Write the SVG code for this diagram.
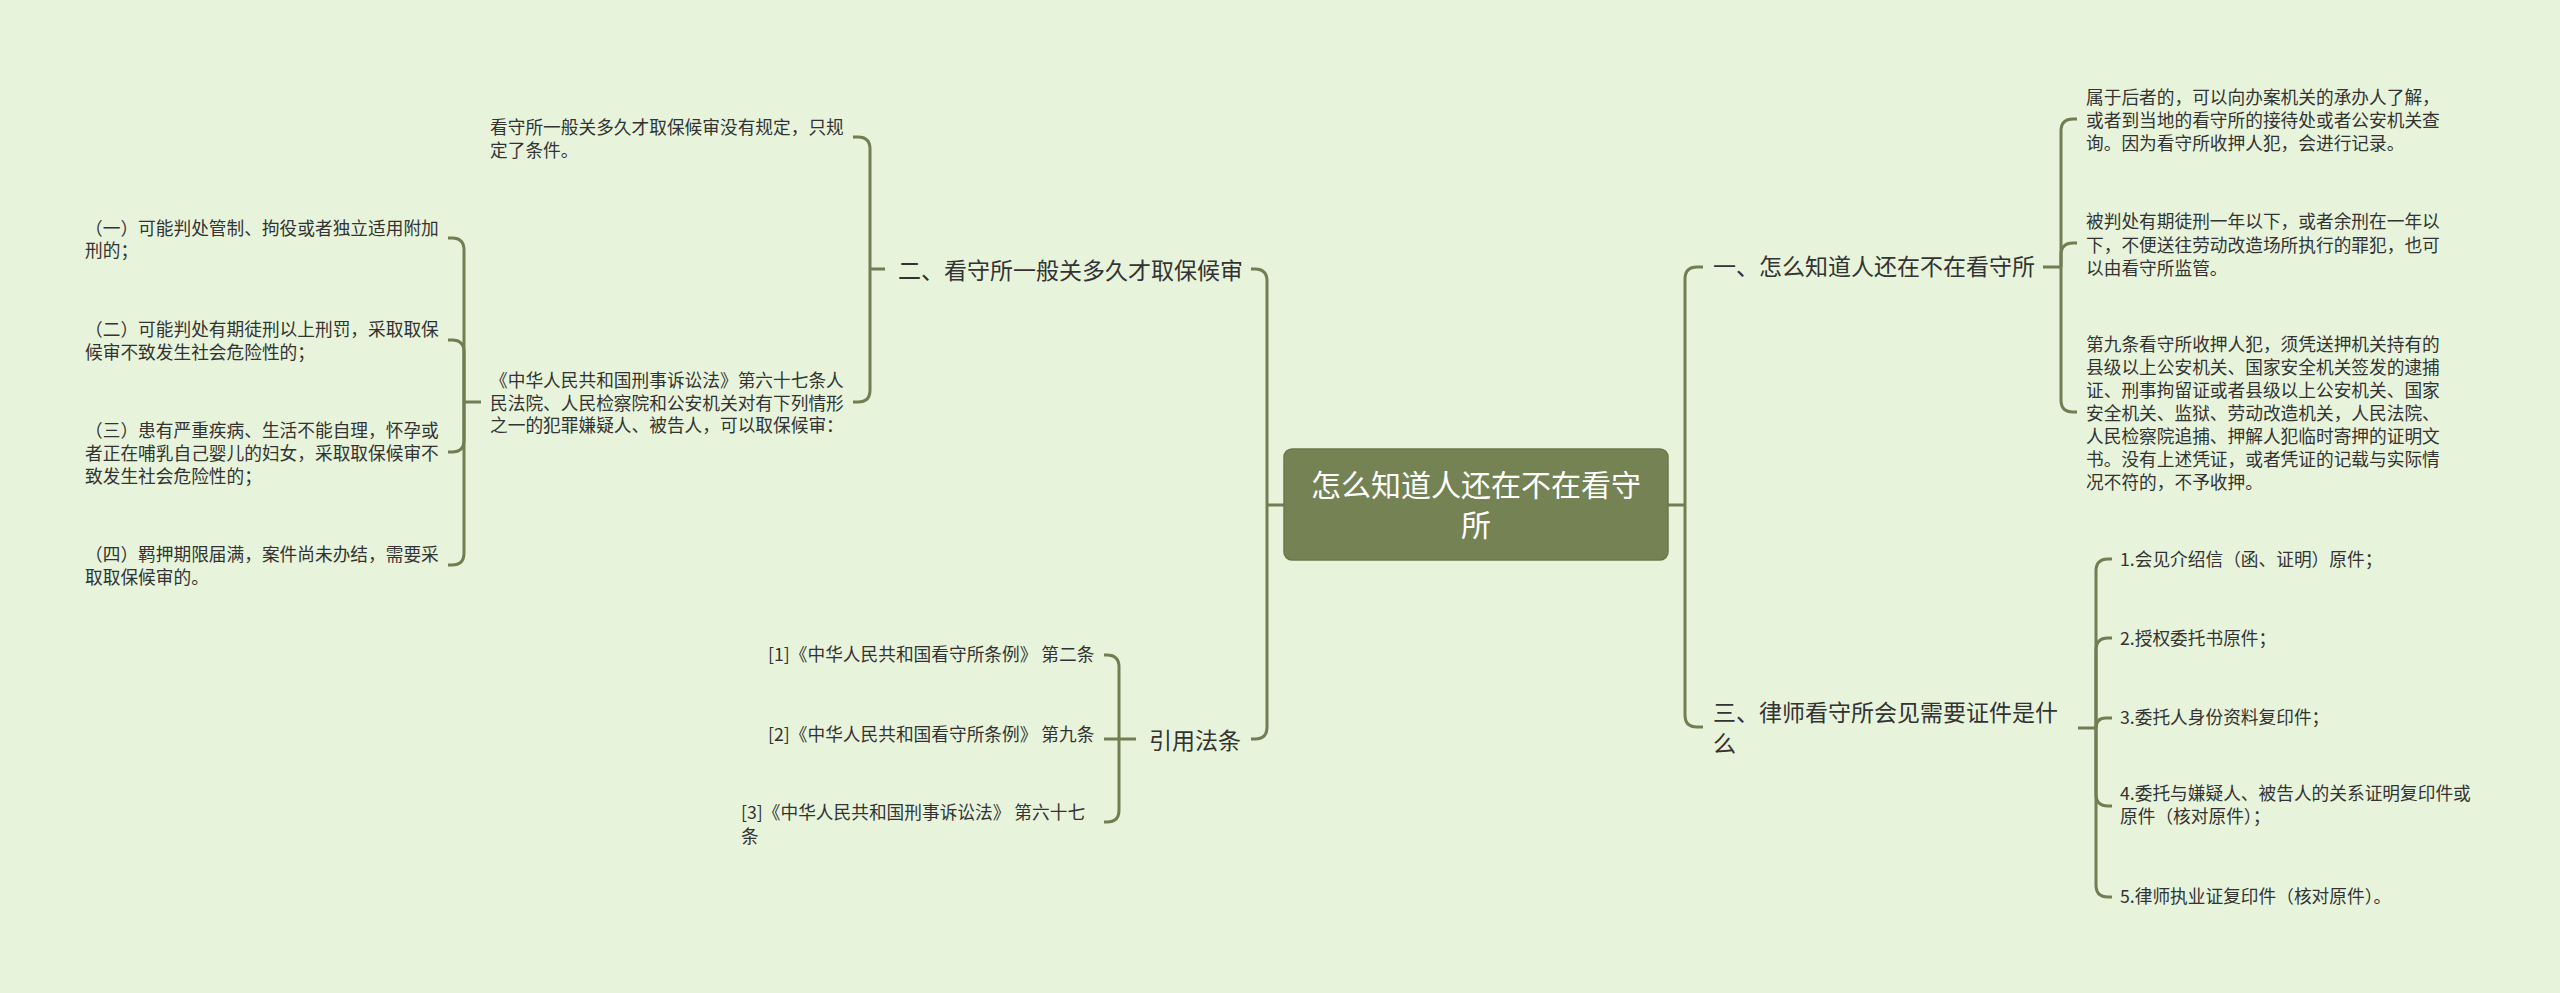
<svg xmlns="http://www.w3.org/2000/svg" width="2560" height="993" viewBox="0 0 2560 993">
<style>
text{font-family:"Noto Sans CJK SC","Noto Sans",sans-serif;fill:#333333}
.leaf{font-size:17.7px}
.branch{font-size:23px}
.root{font-size:30px;fill:#ffffff;text-anchor:middle}
.conn path{fill:none;stroke:#717e53;stroke-width:3;stroke-linecap:butt}
</style>
<rect x="0" y="0" width="2560" height="993" fill="#e7f4db"/>
<g id="connectors" class="conn">
<path d="M1668 505 H1685"/>
<path d="M1685 505 V279 Q1685 267 1697 267 H1703"/>
<path d="M1685 505 V715 Q1685 727 1697 727 H1703"/>
<path d="M2043 267 H2061"/>
<path d="M2061 267 V131 Q2061 119 2073 119 H2077"/>
<path d="M2061 267 V255 Q2061 243 2073 243 H2077"/>
<path d="M2061 267 V400 Q2061 412 2073 412 H2077"/>
<path d="M2078 728 H2096"/>
<path d="M2096 728 V571 Q2096 559 2108 559 H2112"/>
<path d="M2096 728 V650 Q2096 638 2108 638 H2112"/>
<path d="M2096 728 Q2096 718 2106 718 H2112"/>
<path d="M2096 728 V794 Q2096 806 2108 806 H2112"/>
<path d="M2096 728 V885 Q2096 897 2108 897 H2112"/>
<path d="M1284 505 H1267"/>
<path d="M1267 505 V281 Q1267 269 1255 269 H1251"/>
<path d="M1267 505 V727 Q1267 739 1255 739 H1251"/>
<path d="M885 269 H870"/>
<path d="M870 269 V149 Q870 137 858 137 H853"/>
<path d="M870 269 V390 Q870 402 858 402 H853"/>
<path d="M481 402 H464"/>
<path d="M464 402 V250 Q464 238 452 238 H448"/>
<path d="M464 402 V352 Q464 340 452 340 H448"/>
<path d="M464 402 V440 Q464 452 452 452 H448"/>
<path d="M464 402 V553 Q464 565 452 565 H448"/>
<path d="M1136 739 H1119"/>
<path d="M1119 739 V667 Q1119 655 1107 655 H1104"/>
<path d="M1119 739 H1104"/>
<path d="M1119 739 V810 Q1119 822 1107 822 H1104"/>
</g>
<g id="root">
<rect x="1284" y="449" width="384" height="111" rx="8" fill="#748254" stroke="#6a7849" stroke-width="1.5"/>
<text class="root" x="1476" y="496">怎么知道人还在不在看守</text>
<text class="root" x="1476" y="536">所</text>
</g>
<g id="b1">
<text class="branch" x="1713" y="274.5">一、怎么知道人还在不在看守所</text>
</g>
<g id="b1-1">
<text class="leaf" x="2086" y="103.5">属于后者的，可以向办案机关的承办人了解，</text>
<text class="leaf" x="2086" y="126.5">或者到当地的看守所的接待处或者公安机关查</text>
<text class="leaf" x="2086" y="149.5">询。因为看守所收押人犯，会进行记录。</text>
</g>
<g id="b1-2">
<text class="leaf" x="2086" y="228">被判处有期徒刑一年以下，或者余刑在一年以</text>
<text class="leaf" x="2086" y="251.5">下，不便送往劳动改造场所执行的罪犯，也可</text>
<text class="leaf" x="2086" y="275">以由看守所监管。</text>
</g>
<g id="b1-3">
<text class="leaf" x="2086" y="350.5">第九条看守所收押人犯，须凭送押机关持有的</text>
<text class="leaf" x="2086" y="373.6">县级以上公安机关、国家安全机关签发的逮捕</text>
<text class="leaf" x="2086" y="396.7">证、刑事拘留证或者县级以上公安机关、国家</text>
<text class="leaf" x="2086" y="419.8">安全机关、监狱、劳动改造机关，人民法院、</text>
<text class="leaf" x="2086" y="442.9">人民检察院追捕、押解人犯临时寄押的证明文</text>
<text class="leaf" x="2086" y="466">书。没有上述凭证，或者凭证的记载与实际情</text>
<text class="leaf" x="2086" y="489.1">况不符的，不予收押。</text>
</g>
<g id="b3">
<text class="branch" x="1713" y="721">三、律师看守所会见需要证件是什</text>
<text class="branch" x="1713" y="752">么</text>
</g>
<g id="b3-1"><text class="leaf" x="2120" y="565.5">1.会见介绍信（函、证明）原件；</text></g>
<g id="b3-2"><text class="leaf" x="2120" y="644.5">2.授权委托书原件；</text></g>
<g id="b3-3"><text class="leaf" x="2120" y="724">3.委托人身份资料复印件；</text></g>
<g id="b3-4">
<text class="leaf" x="2120" y="800">4.委托与嫌疑人、被告人的关系证明复印件或</text>
<text class="leaf" x="2120" y="823">原件（核对原件）；</text>
</g>
<g id="b3-5"><text class="leaf" x="2120" y="903">5.律师执业证复印件（核对原件）。</text></g>
<g id="b2">
<text class="branch" x="898" y="278.5">二、看守所一般关多久才取保候审</text>
</g>
<g id="b2-1">
<text class="leaf" x="490" y="133.5">看守所一般关多久才取保候审没有规定，只规</text>
<text class="leaf" x="490" y="156.5">定了条件。</text>
</g>
<g id="b2-2">
<text class="leaf" x="490" y="386.5">《中华人民共和国刑事诉讼法》第六十七条人</text>
<text class="leaf" x="490" y="409.5">民法院、人民检察院和公安机关对有下列情形</text>
<text class="leaf" x="490" y="432">之一的犯罪嫌疑人、被告人，可以取保候审：</text>
</g>
<g id="b2-2-1">
<text class="leaf" x="85" y="234.5">（一）可能判处管制、拘役或者独立适用附加</text>
<text class="leaf" x="85" y="257">刑的；</text>
</g>
<g id="b2-2-2">
<text class="leaf" x="85" y="335.5">（二）可能判处有期徒刑以上刑罚，采取取保</text>
<text class="leaf" x="85" y="359">候审不致发生社会危险性的；</text>
</g>
<g id="b2-2-3">
<text class="leaf" x="85" y="436.5">（三）患有严重疾病、生活不能自理，怀孕或</text>
<text class="leaf" x="85" y="459.8">者正在哺乳自己婴儿的妇女，采取取保候审不</text>
<text class="leaf" x="85" y="482.5">致发生社会危险性的；</text>
</g>
<g id="b2-2-4">
<text class="leaf" x="85" y="560.5">（四）羁押期限届满，案件尚未办结，需要采</text>
<text class="leaf" x="85" y="584">取取保候审的。</text>
</g>
<g id="b4">
<text class="branch" x="1149" y="748.5">引用法条</text>
</g>
<g id="b4-1"><text class="leaf" x="768" y="660.5">[1]《中华人民共和国看守所条例》 第二条</text></g>
<g id="b4-2"><text class="leaf" x="768" y="740.5">[2]《中华人民共和国看守所条例》 第九条</text></g>
<g id="b4-3">
<text class="leaf" x="741" y="818.5">[3]《中华人民共和国刑事诉讼法》 第六十七</text>
<text class="leaf" x="741" y="842.5">条</text>
</g>
</svg>
